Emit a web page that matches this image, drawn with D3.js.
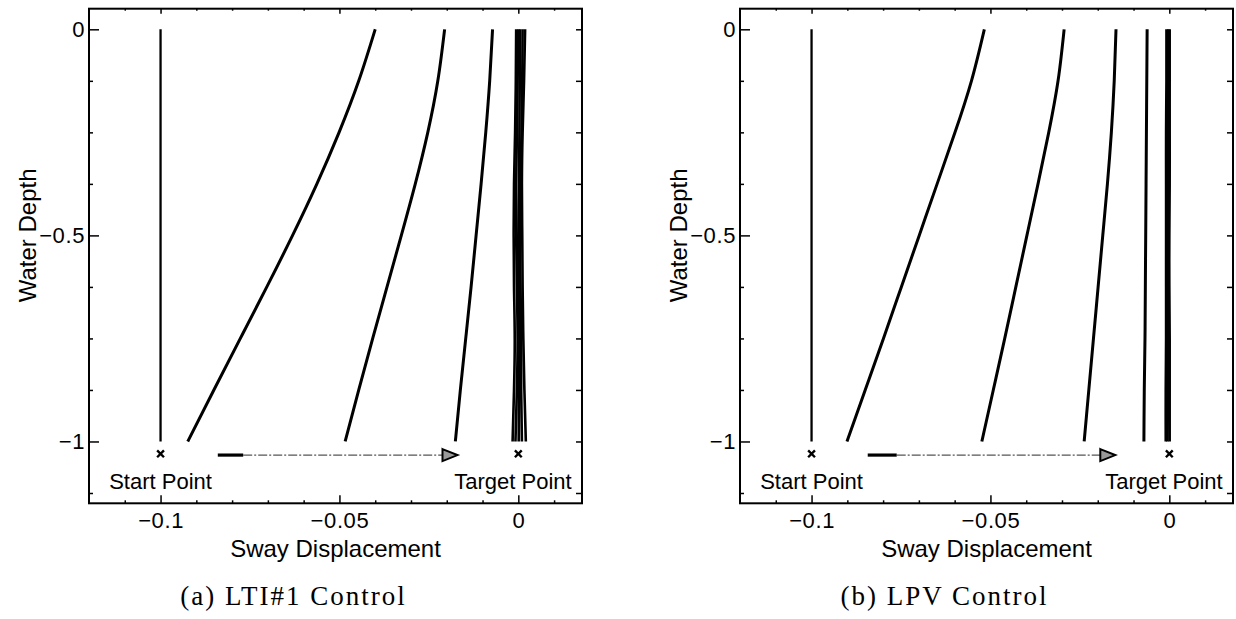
<!DOCTYPE html>
<html>
<head>
<meta charset="utf-8">
<script src="https://cdn.jsdelivr.net/npm/d3@7"></script>
<style>
body { margin: 0; background: #fff; }
svg { display: block; }
.tick text { font-family: "Liberation Sans", Arial, sans-serif; font-size: 22px; letter-spacing: 0.6px; fill: #000; }
.lbl { font-family: "Liberation Sans", Arial, sans-serif; fill: #000; }
.cap { font-family: "Liberation Serif", "Times New Roman", serif; font-size: 27px; letter-spacing: 2px; fill: #000; }
</style>
</head>
<body>
<script>
//---------------------------------- datos
// depth stations shared by every profile (water depth, 0 = surface, -1 = seabed)
var depths = [0, -0.125, -0.25, -0.375, -0.5, -0.625, -0.75, -0.875, -1];

// sway displacement of each snapshot, LTI#1 control
var ltiStart   = [-0.1, -0.1, -0.1, -0.1, -0.1, -0.1, -0.1, -0.1, -0.1];
var ltiSnap1   = [-0.0400, -0.0446, -0.0501, -0.0563, -0.0631, -0.0703, -0.0777, -0.0851, -0.0924];
var ltiSnap2   = [-0.0206, -0.0225, -0.0253, -0.0288, -0.0327, -0.0367, -0.0407, -0.0446, -0.0484];
var ltiSnap3   = [-0.0072, -0.0080, -0.0091, -0.0104, -0.0118, -0.0132, -0.0147, -0.0162, -0.0176];
var ltiSettleA = [-0.0006, -0.0007, -0.0009, -0.0012, -0.0013, -0.0012, -0.0010, -0.0012, -0.0016];
var ltiSettleB = [0.0000, -0.0002, -0.0004, -0.0006, -0.0006, -0.0004, -0.0002, -0.0004, -0.0008];
var ltiSettleC = [0.0005, 0.0004, 0.0003, 0.0002, 0.0000, 0.0001, 0.0003, 0.0002, 0.0001];
var ltiSettleD = [0.0012, 0.0011, 0.0009, 0.0006, 0.0004, 0.0006, 0.0008, 0.0008, 0.0010];
var ltiSettleE = [0.0019, 0.0016, 0.0012, 0.0010, 0.0011, 0.0012, 0.0014, 0.0017, 0.0021];

// sway displacement of each snapshot, LPV control
var lpvStart   = [-0.1, -0.1, -0.1, -0.1, -0.1, -0.1, -0.1, -0.1, -0.1];
var lpvSnap1   = [-0.0517, -0.0553, -0.0599, -0.0649, -0.0699, -0.0749, -0.0799, -0.0850, -0.0901];
var lpvSnap2   = [-0.0294, -0.0311, -0.0337, -0.0367, -0.0398, -0.0429, -0.0460, -0.0492, -0.0524];
var lpvSnap3   = [-0.0149, -0.0154, -0.0162, -0.0173, -0.0186, -0.0199, -0.0212, -0.0225, -0.0238];
var lpvSnap4   = [-0.0062, -0.0063, -0.0064, -0.0065, -0.0066, -0.0067, -0.0068, -0.0070, -0.0071];
var lpvSettleA = [-0.0008, -0.0008, -0.0009, -0.0009, -0.0009, -0.0009, -0.0009, -0.0010, -0.0010];
var lpvSettleB = [-0.0003, -0.0003, -0.0004, -0.0004, -0.0004, -0.0004, -0.0004, -0.0004, -0.0005];
var lpvSettleC = [0.0001, 0.0001, 0.0001, 0.0001, 0.0000, 0.0000, 0.0001, 0.0001, 0.0001];

// axes
var xDomain = [-0.12, 0.0178];
var yDomain = [-1.15, 0.05];
var xMajorTicks = [-0.1, -0.05, 0];
var xTickLabels = ["\u22120.1", "\u22120.05", "0"];
var xMinorTicks = [-0.11, -0.09, -0.08, -0.07, -0.06, -0.04, -0.03, -0.02, -0.01, 0.01];
var yMajorTicks = [0, -0.5, -1];
var yTickLabels = ["0", "\u22120.5", "\u22121"];
var yMinorTicks = [-0.125, -0.25, -0.375, -0.625, -0.75, -0.875, -1.125];

// annotation: start / target markers and the transfer arrow
var markerX = [-0.1, 0];
var markerY = -1.03;
var ltiArrow = [-0.084, -0.0769, -0.017];   // start, end of heavy part, tip
var lpvArrow = [-0.0843, -0.0762, -0.0151];
var arrowY = -1.033;
var labelText = ["Start Point", "Target Point"];
var labelX = [-0.1, -0.0015];
var labelY = -1.115;

//---------------------------------- panels
var panels = [
	{ left: 89, caption: "(a) LTI#1 Control",
	  series: [ltiStart, ltiSnap1, ltiSnap2, ltiSnap3],
	  bundle: [ltiSettleA, ltiSettleB, ltiSettleC, ltiSettleD, ltiSettleE],
	  arrow: ltiArrow },
	{ left: 740, caption: "(b) LPV Control",
	  series: [lpvStart, lpvSnap1, lpvSnap2, lpvSnap3, lpvSnap4],
	  bundle: [lpvSettleA, lpvSettleB, lpvSettleC],
	  arrow: lpvArrow }
];
var _ancho = 493, _arriba = 8.7, _abajo = 503.3;

var svg = d3.select("body").append("svg")
	.attr("width", 1236)
	.attr("height", 619);

panels.forEach(function (p) {
	renderPanel(p);
});

function renderPanel(p)
{
	var x = d3.scaleLinear().domain(xDomain).range([p.left, p.left + _ancho]);
	var y = d3.scaleLinear().domain(yDomain).range([_abajo, _arriba]);
	var g = svg.append("g");

	// ticks: long labelled ones and short minor ones, on all four sides
	function ticks(axis, vals, size, pos, fmt)
	{
		var a = g.append("g")
			.attr("transform", pos)
			.call(axis.tickValues(vals).tickSizeInner(size).tickSizeOuter(0).tickPadding(5)
				.tickFormat(fmt || ""));
		a.select(".domain").remove();
		a.selectAll(".tick line").attr("stroke", "#000").attr("stroke-width", 1.5);
		return a;
	}
	ticks(d3.axisBottom(x), xMajorTicks, -8, "translate(0," + _abajo + ")",
		function (d, i) { return xTickLabels[i]; })
		.selectAll("text").attr("y", 9).attr("dy", "0.71em");
	ticks(d3.axisBottom(x), xMinorTicks, -3, "translate(0," + _abajo + ")");
	ticks(d3.axisTop(x), xMajorTicks, -5, "translate(0," + _arriba + ")");
	ticks(d3.axisTop(x), xMinorTicks, -2, "translate(0," + _arriba + ")");
	ticks(d3.axisLeft(y), yMajorTicks, -10, "translate(" + p.left + ",0)",
		function (d, i) { return yTickLabels[i]; })
		.selectAll("text").attr("x", -4);
	ticks(d3.axisLeft(y), yMinorTicks, -4, "translate(" + p.left + ",0)");
	ticks(d3.axisRight(y), yMajorTicks.concat(yMinorTicks), -6, "translate(" + (p.left + _ancho) + ",0)");

	// frame
	g.append("rect")
		.attr("x", p.left).attr("y", _arriba)
		.attr("width", _ancho).attr("height", _abajo - _arriba)
		.attr("fill", "none").attr("stroke", "#000").attr("stroke-width", 2);

	var line = d3.line()
		.x(function (d) { return x(d); })
		.y(function (d, i) { return y(depths[i]); })
		.curve(d3.curveNatural);

	g.selectAll("path.snap")
		.data(p.series)
		.enter().append("path")
		.attr("class", "snap")
		.attr("d", line)
		.attr("fill", "none")
		.attr("stroke", "#000")
		.attr("stroke-width", function (d, i) { return i === 0 ? 2.3 : 3; });

	g.selectAll("path.bundle")
		.data(p.bundle)
		.enter().append("path")
		.attr("class", "bundle")
		.attr("d", line)
		.attr("fill", "none")
		.attr("stroke", "#000")
		.attr("stroke-width", 2.6);

	// start and target markers
	g.selectAll("path.mark")
		.data(markerX)
		.enter().append("path")
		.attr("class", "mark")
		.attr("transform", function (d) { return "translate(" + x(d) + "," + y(markerY) + ")"; })
		.attr("d", d3.symbol().type(d3.symbolX).size(32))
		.attr("fill", "none").attr("stroke", "#000").attr("stroke-width", 2.4);

	// arrow from start to target
	var ay = y(arrowY), tip = x(p.arrow[2]);
	g.append("line")
		.attr("x1", x(p.arrow[1])).attr("x2", tip - 14)
		.attr("y1", ay).attr("y2", ay)
		.attr("stroke", "#555").attr("stroke-width", 1.3)
		.attr("stroke-dasharray", "9,2,2,2");
	g.append("line")
		.attr("x1", x(p.arrow[0])).attr("x2", x(p.arrow[1]))
		.attr("y1", ay).attr("y2", ay)
		.attr("stroke", "#000").attr("stroke-width", 3.2);
	g.append("path")
		.attr("d", "M" + (tip - 15) + "," + (ay - 6) + "L" + tip + "," + ay + "L" + (tip - 15) + "," + (ay + 6) + "Z")
		.attr("fill", "#999").attr("stroke", "#000").attr("stroke-width", 2).attr("stroke-linejoin", "miter");

	g.selectAll("text.pt")
		.data(labelText)
		.enter().append("text")
		.attr("class", "lbl pt")
		.attr("x", function (d, i) { return x(labelX[i]); })
		.attr("y", y(labelY))
		.attr("text-anchor", "middle")
		.style("font-size", "22px")
		.text(function (d) { return d; });

	// axis titles and caption
	var mid = p.left + _ancho / 2;
	g.append("text")
		.attr("class", "lbl")
		.attr("x", mid).attr("y", 557)
		.attr("text-anchor", "middle")
		.style("font-size", "24px")
		.text("Sway Displacement");
	g.append("text")
		.attr("class", "lbl")
		.attr("transform", "translate(" + (p.left - 62) + "," + y(-0.5) + ") rotate(-90)")
		.attr("text-anchor", "middle")
		.attr("dy", "0.36em")
		.style("font-size", "24px")
		.text("Water Depth");
	g.append("text")
		.attr("class", "cap")
		.attr("x", mid - 42).attr("y", 605)
		.attr("text-anchor", "middle")
		.text(p.caption);
}
</script>
</body>
</html>
